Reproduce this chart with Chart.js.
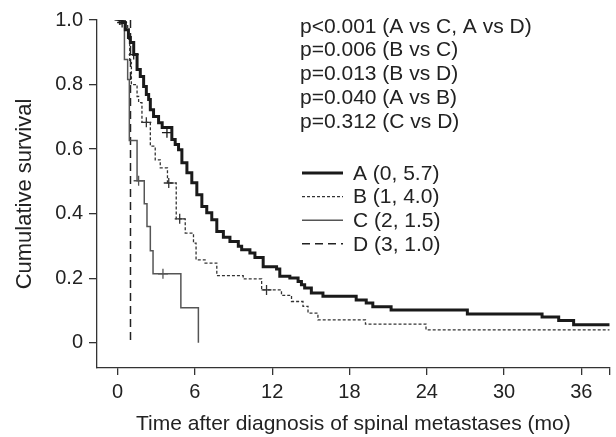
<!DOCTYPE html>
<html>
<head>
<meta charset="utf-8">
<script src="https://cdn.jsdelivr.net/npm/chart.js@4.4.1/dist/chart.umd.min.js"></script>
<style>
  html, body { margin: 0; padding: 0; background: #fff; }
  #wrap { width: 616px; height: 437px; }
</style>
</head>
<body>
<div id="wrap"><canvas id="kmChart" width="616" height="437"></canvas></div>
<script>
// Kaplan-Meier curves (time in months, cumulative survival)
const timeA = [0, 0.35, 0.60, 0.84, 0.99, 1.25, 1.51, 1.76, 2.02, 2.23, 2.41, 2.54, 2.79, 3.18, 3.46, 4.21, 4.47, 4.73, 4.99, 5.38, 5.76, 6.15, 6.54, 6.92, 7.31, 7.70, 8.21, 8.72, 9.37, 9.63, 10.27, 10.66, 11.30, 12.34, 12.59, 13.37, 14.01, 14.27, 14.52, 15.04, 15.94, 18.52, 19.30, 19.81, 21.23, 27.15, 32.95, 34.24, 35.40, 38.2];
const survA = [1, 0.992, 0.970, 0.946, 0.930, 0.893, 0.847, 0.825, 0.794, 0.769, 0.754, 0.722, 0.701, 0.682, 0.667, 0.630, 0.614, 0.598, 0.558, 0.527, 0.496, 0.459, 0.422, 0.403, 0.381, 0.345, 0.327, 0.314, 0.299, 0.288, 0.278, 0.264, 0.236, 0.229, 0.206, 0.201, 0.190, 0.180, 0.170, 0.154, 0.144, 0.133, 0.123, 0.112, 0.102, 0.089, 0.080, 0.069, 0.056, 0.056];

const timeB = [0, 0.60, 0.78, 0.94, 1.07, 1.51, 1.63, 1.89, 2.54, 2.92, 3.31, 3.87, 4.55, 5.25, 5.89, 6.09, 6.79, 7.70, 9.75, 11.18, 12.72, 13.50, 14.39, 14.78, 15.55, 19.24, 23.94, 38.2];
const survB = [1, 0.986, 0.940, 0.868, 0.800, 0.763, 0.744, 0.683, 0.609, 0.567, 0.542, 0.495, 0.384, 0.340, 0.309, 0.257, 0.247, 0.208, 0.198, 0.164, 0.147, 0.128, 0.113, 0.092, 0.071, 0.058, 0.040, 0.040];

const timeC = [0, 0.53, 0.78, 0.91, 1.51, 2.07, 2.28, 2.54, 2.75, 4.91, 6.27];
const survC = [1, 0.878, 0.816, 0.627, 0.502, 0.431, 0.360, 0.285, 0.214, 0.109, 0];

const timeD = [0, 1.0];
const survD = [1, 0];

// censored observations (+)
const censorTimeA = [0.35, 1.25, 3.83];
const censorSurvA = [0.992, 0.893, 0.651];
const censorTimeB = [0.15, 2.23, 3.97, 4.82, 11.56];
const censorSurvB = [1, 0.683, 0.495, 0.384, 0.164];
const censorTimeC = [0.25, 1.63, 3.52];
const censorSurvC = [1, 0.502, 0.214];

const xTicks = [0, 6, 12, 18, 24, 30, 36];
const yTicks = [0, 0.2, 0.4, 0.6, 0.8, 1.0];

const groupLabels = ["A (0, 5.7)", "B (1, 4.0)", "C (2, 1.5)", "D (3, 1.0)"];
const pValueLines = [
    "p<0.001 (A vs C, A vs D)",
    "p=0.006 (B vs C)",
    "p=0.013 (B vs D)",
    "p=0.040 (A vs B)",
    "p=0.312 (C vs D)"
];

const FONT = "'Liberation Sans', Arial, Helvetica, sans-serif";
const INK = "#222";

const styles = [
    { color: "#1a1a1a", width: 3, dash: [] },
    { color: "#333", width: 1.3, dash: [3, 2] },
    { color: "#555", width: 1.5, dash: [] },
    { color: "#222", width: 1.5, dash: [8, 5] }
];

function toPoints(xs, ys) {
    return xs.map((x, i) => ({ x: x, y: ys[i] }));
}

function curve(label, xs, ys, st) {
    return {
        label: label,
        data: toPoints(xs, ys),
        stepped: true,
        borderColor: st.color,
        borderWidth: st.width,
        borderDash: st.dash,
        pointRadius: 0,
        fill: false,
        tension: 0
    };
}

function censor(xs, ys, st) {
    return {
        label: "",
        data: toPoints(xs, ys),
        showLine: false,
        pointStyle: "cross",
        pointRadius: 5,
        pointBorderWidth: 1.3,
        pointBorderColor: st.color,
        borderColor: st.color
    };
}

// p-values and legend are drawn as text next to the curves
const annotations = {
    id: "annotations",
    afterDraw(chart) {
        const ctx = chart.ctx;
        ctx.save();
        ctx.fillStyle = INK;
        ctx.font = "21px " + FONT;
        ctx.textBaseline = "middle";
        ctx.textAlign = "left";
        pValueLines.forEach((t, i) => {
            ctx.fillText(t, 300, 27 + i * 23.7);
        });
        groupLabels.forEach((t, i) => {
            const y = 173 + i * 23.6;
            const st = styles[i];
            ctx.beginPath();
            ctx.strokeStyle = st.color;
            ctx.lineWidth = st.width;
            ctx.setLineDash(st.dash);
            ctx.moveTo(302, y);
            ctx.lineTo(343, y);
            ctx.stroke();
            ctx.setLineDash([]);
            ctx.fillText(t, 353, y + 1);
        });
        ctx.restore();
    }
};

const config = {
    type: "line",
    data: {
        datasets: [
            curve(groupLabels[0], timeA, survA, styles[0]),
            curve(groupLabels[1], timeB, survB, styles[1]),
            curve(groupLabels[2], timeC, survC, styles[2]),
            curve(groupLabels[3], timeD, survD, styles[3]),
            censor(censorTimeA, censorSurvA, styles[0]),
            censor(censorTimeB, censorSurvB, styles[1]),
            censor(censorTimeC, censorSurvC, styles[2])
        ]
    },
    options: {
        responsive: false,
        animation: false,
        layout: { padding: { top: 20, right: 5, bottom: 0, left: 0 } },
        plugins: {
            legend: { display: false },
            tooltip: { enabled: false }
        },
        scales: {
            x: {
                type: "linear",
                min: -1.6,
                max: 38.2,
                afterBuildTicks(scale) {
                    scale.ticks = xTicks.concat([38.2]).map(v => ({ value: v }));
                },
                afterFit(scale) { scale.height = 69; },
                ticks: {
                    color: INK,
                    font: { family: FONT, size: 20 },
                    padding: 5,
                    maxRotation: 0,
                    autoSkip: false,
                    callback: v => (xTicks.includes(v) ? String(v) : "")
                },
                grid: { drawOnChartArea: false, drawTicks: true, tickLength: 7, color: "#333", lineWidth: 1.3 },
                border: { display: true, color: "#333", width: 1.3 },
                title: {
                    display: true,
                    text: "Time after diagnosis of spinal metastases (mo)",
                    color: INK,
                    font: { family: FONT, size: 21 },
                    padding: { top: 2, bottom: 0 }
                }
            },
            y: {
                type: "linear",
                min: -0.078,
                max: 1.0,
                afterBuildTicks(scale) {
                    scale.ticks = yTicks.map(v => ({ value: v }));
                },
                afterFit(scale) { scale.width = 97; },
                ticks: {
                    color: INK,
                    font: { family: FONT, size: 20 },
                    padding: 6,
                    callback: v => (v === 0 ? "0" : v.toFixed(1))
                },
                grid: { drawOnChartArea: false, drawTicks: true, tickLength: 8, color: "#333", lineWidth: 1.3 },
                border: { display: true, color: "#333", width: 1.3 },
                title: {
                    display: true,
                    text: "Cumulative survival",
                    color: INK,
                    font: { family: FONT, size: 22 },
                    padding: { top: 12, bottom: 0 }
                }
            }
        }
    },
    plugins: [annotations]
};

new Chart(document.getElementById("kmChart"), config);
</script>
</body>
</html>
